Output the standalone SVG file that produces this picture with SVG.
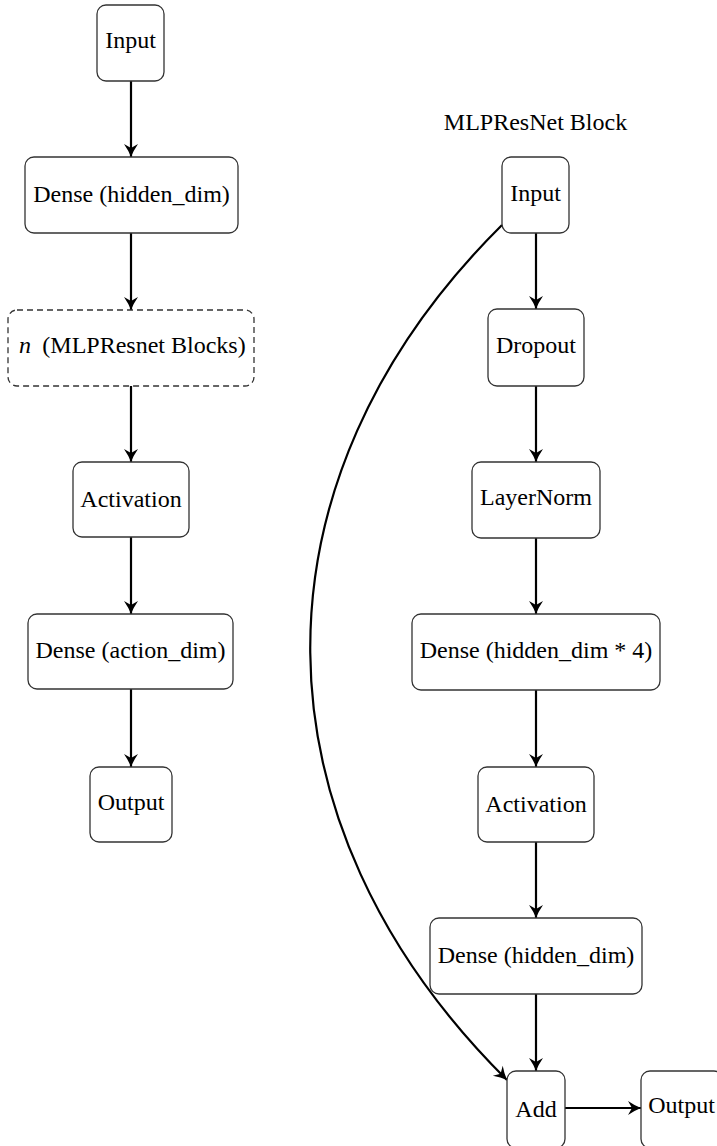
<svg xmlns="http://www.w3.org/2000/svg" width="717" height="1146" viewBox="0 0 717 1146">
<style>
.box{fill:#fff;stroke:#333;stroke-width:1.3}
.dash{fill:#fff;stroke:#333;stroke-width:1.3;stroke-dasharray:6 4}
.t{font-family:"Liberation Serif","Times New Roman",serif;font-size:24px;fill:#000;text-anchor:middle}
.e{fill:none;stroke:#000;stroke-width:2.2}
</style>
<defs>
<marker id="ah" markerUnits="userSpaceOnUse" markerWidth="18" markerHeight="18" viewBox="-15 -9 18 18" refX="0" refY="0" orient="auto">
<path d="M0,0 Q-6.5,-2.5 -13,-7 L-9,0 L-13,7 Q-6.5,2.5 0,0 Z" fill="#000"/>
</marker>
</defs>
<rect width="717" height="1146" fill="#fff"/>
<g id="connectors">
<line class="e" x1="131" y1="81" x2="131" y2="157" marker-end="url(#ah)"/>
<line class="e" x1="131" y1="233" x2="131" y2="310" marker-end="url(#ah)"/>
<line class="e" x1="131" y1="386" x2="131" y2="462" marker-end="url(#ah)"/>
<line class="e" x1="131" y1="537" x2="131" y2="614" marker-end="url(#ah)"/>
<line class="e" x1="131" y1="689" x2="131" y2="767" marker-end="url(#ah)"/>
<line class="e" x1="536" y1="233" x2="536" y2="309" marker-end="url(#ah)"/>
<line class="e" x1="536" y1="386" x2="536" y2="462" marker-end="url(#ah)"/>
<line class="e" x1="536" y1="538" x2="536" y2="614" marker-end="url(#ah)"/>
<line class="e" x1="536" y1="690" x2="536" y2="767" marker-end="url(#ah)"/>
<line class="e" x1="536" y1="842" x2="536" y2="918" marker-end="url(#ah)"/>
<line class="e" x1="536" y1="994" x2="536" y2="1071" marker-end="url(#ah)"/>
<line class="e" x1="565" y1="1108" x2="641" y2="1108" marker-end="url(#ah)"/>
<path class="e" d="M502,225 C243,482 248,823 507,1080" marker-end="url(#ah)"/>
</g>
<g id="l_input"><rect class="box" x="97" y="5" width="67" height="76" rx="9"/><text class="t" x="130.5" y="48">Input</text></g>
<g id="l_dense1"><rect class="box" x="25" y="157" width="213" height="76" rx="9"/><text class="t" x="131.5" y="201.5">Dense (hidden_dim)</text></g>
<g id="l_blocks"><rect class="dash" x="8" y="310" width="246" height="76" rx="9"/><text x="19" y="353" style="font-family:'Liberation Serif',serif;font-size:24px;font-style:italic">n</text><text class="t" x="144" y="353">(MLPResnet Blocks)</text></g>
<g id="l_act"><rect class="box" x="73" y="462" width="116" height="75" rx="9"/><text class="t" x="131" y="507">Activation</text></g>
<g id="l_dense2"><rect class="box" x="28" y="614" width="205" height="75" rx="9"/><text class="t" x="130.5" y="658">Dense (action_dim)</text></g>
<g id="l_output"><rect class="box" x="90" y="767" width="82" height="75" rx="9"/><text class="t" x="131" y="810">Output</text></g>
<g id="title"><text class="t" x="535.5" y="130">MLPResNet Block</text></g>
<g id="r_input"><rect class="box" x="502" y="157" width="67" height="76" rx="9"/><text class="t" x="535.5" y="201">Input</text></g>
<g id="r_dropout"><rect class="box" x="488" y="309" width="96" height="77" rx="9"/><text class="t" x="536" y="353">Dropout</text></g>
<g id="r_ln"><rect class="box" x="472" y="462" width="128" height="76" rx="9"/><text class="t" x="536" y="505">LayerNorm</text></g>
<g id="r_dense4"><rect class="box" x="412" y="614" width="248" height="76" rx="9"/><text class="t" x="536" y="658">Dense (hidden_dim * 4)</text></g>
<g id="r_act"><rect class="box" x="478" y="767" width="116" height="75" rx="9"/><text class="t" x="536" y="811.5">Activation</text></g>
<g id="r_dense"><rect class="box" x="430" y="918" width="212" height="76" rx="9"/><text class="t" x="536" y="962.5">Dense (hidden_dim)</text></g>
<g id="r_add"><rect class="box" x="507" y="1071" width="58" height="77" rx="9"/><text class="t" x="536" y="1116.5">Add</text></g>
<g id="r_output"><rect class="box" x="641" y="1071" width="82" height="77" rx="9"/><text class="t" x="681.5" y="1113">Output</text></g>
</svg>
